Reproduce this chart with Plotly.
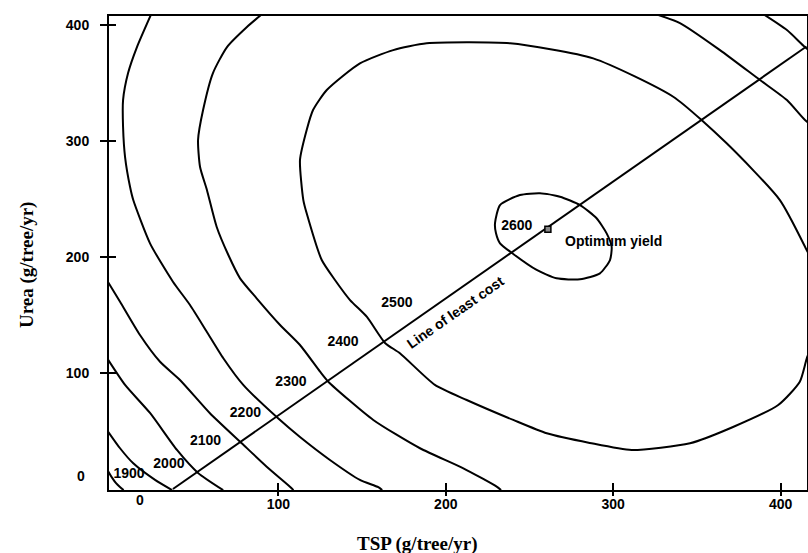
import plotly.graph_objects as go

# ---- data (TSP on x, Urea on y, both g/tree/yr) ----
C1900_X = [-2, 0.5, 3, 5.5, 7.5]
C1900_Y = [16, 10, 5, 1.5, -1]

C2000_X = [-2, 5.4, 13.3, 26.3, 36.5]
C2000_Y = [50, 35.1, 22.1, 7.8, -1]

C2100_X = [-2, 8.4, 23.3, 39.4, 52.0, 67.0]
C2100_Y = [112, 89.7, 65.5, 33.6, 13.8, -1]

C2200_X = [-2, 5.4, 17.3, 29.3, 41.2, 59.1, 78.1, 93.0, 106.9, 109]
C2200_Y = [179, 161.5, 132.8, 109.7, 94.0, 65.3, 39.4, 19.2, 2.0, -1]

C2300_X = [24.5, 15.5, 10.2, 7.2, 7.2, 8.4, 11.4, 13.3, 23.3, 37.0, 47.2, 57.2,
           67.1, 79.0, 99.8, 112.9, 130.8, 148.7, 159.7, 162]
C2300_Y = [411, 381.0, 358.6, 335.3, 312.1, 286.2, 260.3, 249.1, 211.8, 178.7, 158.6, 135.6,
           112.7, 89.7, 60.9, 44.8, 25.0, 7.8, 1.5, -1]

C2400_X = [91.5, 81.2, 69.3, 60.9, 55.0, 52.0, 53.2, 57.3, 63.1, 70.1, 77.1, 87.0,
           101.0, 112.9, 124.9, 129.8, 156.7, 184.6, 210.5, 230.4, 233]
C2400_Y = [411, 398.3, 381.0, 358.6, 326.7, 300.9, 277.6, 257.8, 226.1, 201.7, 181.6, 164.4,
           141.4, 124.1, 101.1, 92.5, 59.5, 35.1, 17.8, 2.0, -1]

C2400B_X = [322, 339.9, 363.8, 387.7, 403.8, 414.6, 424]
C2400B_Y = [411, 401.7, 378.4, 352.6, 335.3, 318.1, 308]

C2300B_X = [388, 403.8, 414.6, 424]
C2300B_Y = [411, 395.7, 381.0, 370]

C2500_X = [148.7, 128.9, 120.7, 116.9, 112.9, 114.9, 116.9, 125.9, 133.8, 142.8, 152.9,
           163.7, 172.6, 193.5, 212.5, 240.3, 260.3, 286.0, 311.0, 345.9, 371.6, 398.6,
           411.5, 416.0, 429.5, 415.6, 399.6, 367.8, 335.9, 288.1, 238.4, 188.6, 168.6, 148.7]
C2500_Y = [367.0, 344.0, 326.7, 309.5, 283.6, 249.1, 237.7, 197.4, 180.2, 162.9, 148.3,
           125.9, 117.0, 89.7, 76.7, 59.5, 48.0, 39.7, 33.6, 39.4, 53.4, 72.4,
           92.5, 114.1, 162.9, 206.0, 249.1, 298.0, 338.2, 371.3, 384.2, 384.2, 378.4, 367.0]

C2600_X = [229.4, 232.4, 244.3, 256.3, 268.2, 280.2, 290.1, 296.1, 299.1, 298.1, 292.1,
           280.2, 266.2, 254.3, 240.3, 232.4, 230.0, 229.4]
C2600_Y = [229.1, 244.8, 253.4, 254.9, 252.0, 244.8, 233.4, 220.4, 208.9, 197.4, 185.9,
           180.8, 181.6, 188.8, 202.6, 211.8, 220.4, 229.1]

LEAST_COST_X = [37, 415.5]
LEAST_COST_Y = [0, 381.5]

OPTIMUM_X = [261]
OPTIMUM_Y = [224]

LEVEL_LABELS = ["1900", "2000", "2100", "2200", "2300", "2400", "2500", "2600"]
LEVEL_LABEL_X = [10.8, 34.6, 56.5, 80.3, 107.5, 138.6, 170.8, 242.4]
LEVEL_LABEL_Y = [12.1, 20.7, 40.9, 65.1, 92.2, 125.9, 160.3, 226.1]

TICK_VALS = [100, 200, 300, 400]
TICK_TEXT = ["100", "200", "300", "400"]

X_RANGE = [-1.2, 415.8]
Y_RANGE = [-0.9, 407.8]

# ---------------------------------------------------------------------------
BOLD_SANS = dict(family="Arial, Liberation Sans, sans-serif", size=14, color="black", weight="bold")
BOLD_SERIF = dict(family="Times New Roman, Liberation Serif, serif", size=19, color="black", weight="bold")

fig = go.Figure()

contours = [
    (C1900_X, C1900_Y), (C2000_X, C2000_Y), (C2100_X, C2100_Y), (C2200_X, C2200_Y),
    (C2300_X, C2300_Y), (C2400_X, C2400_Y), (C2400B_X, C2400B_Y), (C2300B_X, C2300B_Y),
    (C2500_X, C2500_Y), (C2600_X, C2600_Y),
]
for cx, cy in contours:
    fig.add_trace(go.Scatter(x=cx, y=cy, mode="lines",
                             line=dict(color="black", width=2, shape="spline", smoothing=0.6),
                             hoverinfo="skip", showlegend=False))

fig.add_trace(go.Scatter(x=LEAST_COST_X, y=LEAST_COST_Y, mode="lines",
                         line=dict(color="black", width=2), hoverinfo="skip", showlegend=False))

fig.add_trace(go.Scatter(x=OPTIMUM_X, y=OPTIMUM_Y, mode="markers",
                         marker=dict(symbol="square", size=6, color="#888888",
                                     line=dict(color="black", width=1.5)),
                         hoverinfo="skip", showlegend=False))

fig.add_trace(go.Scatter(x=LEVEL_LABEL_X, y=LEVEL_LABEL_Y, mode="text", text=LEVEL_LABELS,
                         textfont=BOLD_SANS, textposition="middle center",
                         hoverinfo="skip", showlegend=False))

# invisible trace for the overlay axes carrying the outward tick halves
fig.add_trace(go.Scatter(x=[X_RANGE[0]], y=[Y_RANGE[0]], xaxis="x2", yaxis="y2", mode="markers",
                         marker=dict(opacity=0), hoverinfo="skip", showlegend=False))

fig.add_annotation(x=300, y=213.8, xref="x", yref="y", text="Optimum yield",
                   showarrow=False, font=BOLD_SANS)
fig.add_annotation(x=206, y=152.6, xref="x", yref="y", text="Line of least cost",
                   showarrow=False, textangle=-35, font=BOLD_SANS)
# the "0" tick labels, set inward from the corner as in the reference
fig.add_annotation(x=17.3, y=-0.021, xref="x", yref="paper", text="0", showarrow=False,
                   font=BOLD_SANS, yanchor="middle")
fig.add_annotation(x=-0.040, y=11.2, xref="paper", yref="y", text="0", showarrow=False,
                   font=BOLD_SANS, xanchor="center")

fig.add_annotation(x=0.441, y=-0.114, xref="paper", yref="paper", text="TSP (g/tree/yr)",
                   showarrow=False, font=BOLD_SERIF, xanchor="center", yanchor="middle")
fig.add_annotation(x=-0.1175, y=0.4747, xref="paper", yref="paper", text="Urea (g/tree/yr)",
                   showarrow=False, font=BOLD_SERIF, textangle=-90, xanchor="center", yanchor="middle")

fig.update_layout(
    width=808, height=553,
    margin=dict(l=109, r=1, t=16, b=63, autoexpand=False),
    paper_bgcolor="white", plot_bgcolor="white",
    showlegend=False, hovermode=False,
    xaxis=dict(range=X_RANGE, tickvals=TICK_VALS, ticktext=TICK_TEXT, ticks="inside",
               ticklen=7, tickwidth=2, tickcolor="black", showline=True, linewidth=2,
               linecolor="black", mirror=True, showgrid=False, zeroline=False,
               tickfont=BOLD_SANS, ticklabelstandoff=0),
    yaxis=dict(range=Y_RANGE, tickvals=TICK_VALS, ticktext=TICK_TEXT, ticks="inside",
               ticklen=7, tickwidth=2, tickcolor="black", showline=True, linewidth=2,
               linecolor="black", mirror=True, showgrid=False, zeroline=False,
               tickfont=BOLD_SANS, ticklabelstandoff=15),
    xaxis2=dict(range=X_RANGE, overlaying="x", anchor="y", side="bottom", tickvals=TICK_VALS,
                ticks="outside", ticklen=5, tickwidth=2, tickcolor="black",
                showticklabels=False, showline=False, showgrid=False, zeroline=False),
    yaxis2=dict(range=Y_RANGE, overlaying="y", anchor="x", side="left", tickvals=TICK_VALS,
                ticks="outside", ticklen=8, tickwidth=2, tickcolor="black",
                showticklabels=False, showline=False, showgrid=False, zeroline=False),
)

fig.write_html("out.html", config={"displayModeBar": False},
               post_script="document.body.style.margin='0px';document.body.style.padding='0px';")
